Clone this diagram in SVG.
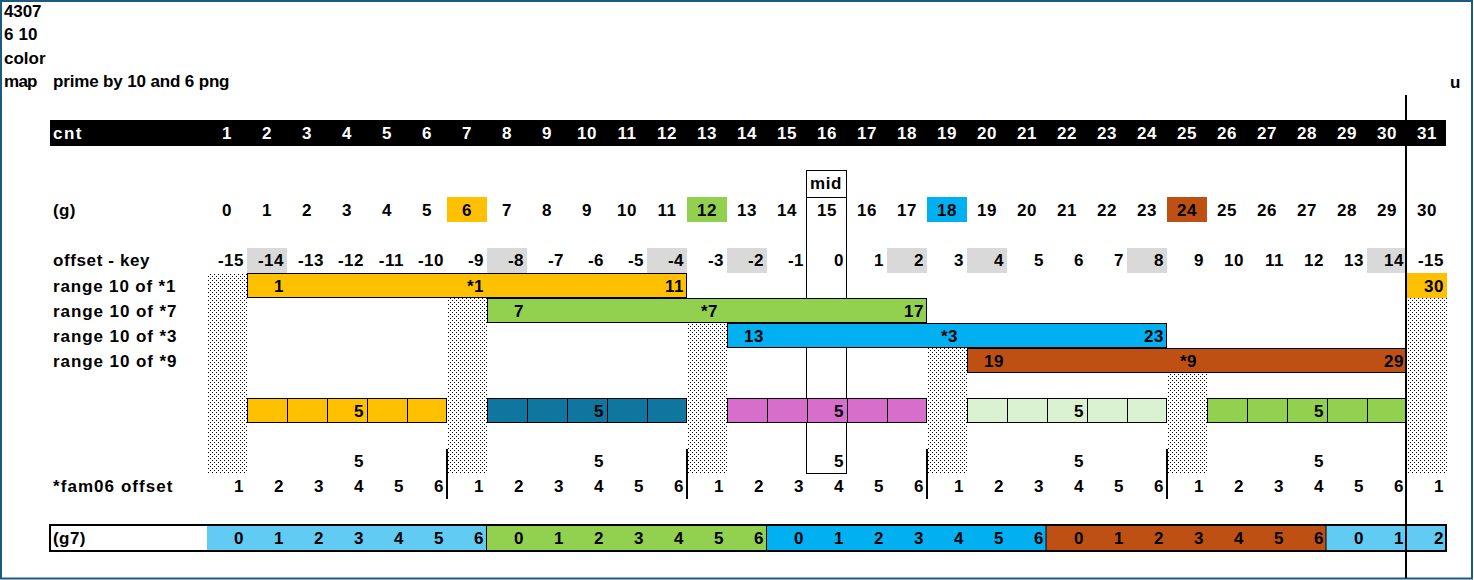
<svg xmlns="http://www.w3.org/2000/svg" width="1474" height="580" viewBox="0 0 1474 580">
<style>
text{font-family:"Liberation Sans",Arial,sans-serif;font-weight:bold;font-size:17px;fill:#000;letter-spacing:0.5px}
.m{text-anchor:middle}
.e{text-anchor:end}
.w{fill:#fff}
.bar{stroke:#000;stroke-width:1}
.cell{stroke:#000;stroke-width:1}
.sep{stroke:#000;stroke-width:2}
</style>
<defs>
<pattern id="dots" width="4" height="4" patternUnits="userSpaceOnUse">
<rect width="4" height="4" fill="#fff"/>
<rect x="0" y="0" width="1" height="1" fill="#000"/>
<rect x="2" y="2" width="1" height="1" fill="#000"/>
</pattern>
</defs>
<rect x="0" y="0" width="1474" height="580" fill="#fff"/>
<rect x="1" y="1" width="1471" height="577.5" fill="none" stroke="#1D5B7E" stroke-width="2"/>

<g id="title">
<text x="4" y="17" textLength="38" lengthAdjust="spacing">4307</text>
<text x="4" y="40" textLength="34" lengthAdjust="spacing">6 10</text>
<text x="4" y="64" textLength="42" lengthAdjust="spacing">color</text>
<text x="4" y="87" textLength="34" lengthAdjust="spacing">map</text>
<text x="53" y="87" textLength="177" lengthAdjust="spacing">prime by 10 and 6 png</text>
<text x="1450" y="88">u</text>
</g>

<g id="cnt-row">
<rect x="50" y="120" width="1396" height="26" fill="#000"/>
<text class="w" x="53" y="139" textLength="29" lengthAdjust="spacing">cnt</text>
<text class="w m" x="227" y="139">1</text><text class="w m" x="267" y="139">2</text><text class="w m" x="307" y="139">3</text><text class="w m" x="347" y="139">4</text><text class="w m" x="387" y="139">5</text><text class="w m" x="427" y="139">6</text><text class="w m" x="467" y="139">7</text><text class="w m" x="507" y="139">8</text><text class="w m" x="547" y="139">9</text><text class="w m" x="587" y="139">10</text><text class="w m" x="627" y="139">11</text><text class="w m" x="667" y="139">12</text><text class="w m" x="707" y="139">13</text><text class="w m" x="747" y="139">14</text><text class="w m" x="787" y="139">15</text><text class="w m" x="827" y="139">16</text><text class="w m" x="867" y="139">17</text><text class="w m" x="907" y="139">18</text><text class="w m" x="947" y="139">19</text><text class="w m" x="987" y="139">20</text><text class="w m" x="1027" y="139">21</text><text class="w m" x="1067" y="139">22</text><text class="w m" x="1107" y="139">23</text><text class="w m" x="1147" y="139">24</text><text class="w m" x="1187" y="139">25</text><text class="w m" x="1227" y="139">26</text><text class="w m" x="1267" y="139">27</text><text class="w m" x="1307" y="139">28</text><text class="w m" x="1347" y="139">29</text><text class="w m" x="1387" y="139">30</text><text class="w m" x="1427" y="139">31</text>
</g>

<g id="mid-box">
<rect x="806.5" y="170.5" width="40" height="303" fill="none" stroke="#000" stroke-width="1"/>
<line x1="806.5" y1="197.5" x2="846.5" y2="197.5" stroke="#000" stroke-width="1"/>
<text x="810" y="189" textLength="32" lengthAdjust="spacing">mid</text>
</g>

<g id="g-row">
<rect x="447" y="197" width="40" height="25" fill="#FFC000"/>
<rect x="687" y="197" width="40" height="25" fill="#92D050"/>
<rect x="927" y="197" width="40" height="25" fill="#00B0F0"/>
<rect x="1167" y="197" width="40" height="25" fill="#BF5014"/>
<text x="53" y="216" textLength="23" lengthAdjust="spacing">(g)</text>
<text class="m" x="227" y="216">0</text><text class="m" x="267" y="216">1</text><text class="m" x="307" y="216">2</text><text class="m" x="347" y="216">3</text><text class="m" x="387" y="216">4</text><text class="m" x="427" y="216">5</text><text class="m" x="467" y="216">6</text><text class="m" x="507" y="216">7</text><text class="m" x="547" y="216">8</text><text class="m" x="587" y="216">9</text><text class="m" x="627" y="216">10</text><text class="m" x="667" y="216">11</text><text class="m" x="707" y="216">12</text><text class="m" x="747" y="216">13</text><text class="m" x="787" y="216">14</text><text class="m" x="827" y="216">15</text><text class="m" x="867" y="216">16</text><text class="m" x="907" y="216">17</text><text class="m" x="947" y="216">18</text><text class="m" x="987" y="216">19</text><text class="m" x="1027" y="216">20</text><text class="m" x="1067" y="216">21</text><text class="m" x="1107" y="216">22</text><text class="m" x="1147" y="216">23</text><text class="m" x="1187" y="216">24</text><text class="m" x="1227" y="216">25</text><text class="m" x="1267" y="216">26</text><text class="m" x="1307" y="216">27</text><text class="m" x="1347" y="216">28</text><text class="m" x="1387" y="216">29</text><text class="m" x="1427" y="216">30</text>
</g>

<g id="offset-key">
<g fill="#D9D9D9">
<rect x="247" y="248" width="40" height="25"/>
<rect x="487" y="248" width="40" height="25"/>
<rect x="647" y="248" width="40" height="25"/>
<rect x="727" y="248" width="40" height="25"/>
<rect x="887" y="248" width="40" height="25"/>
<rect x="967" y="248" width="40" height="25"/>
<rect x="1127" y="248" width="40" height="25"/>
<rect x="1367" y="248" width="40" height="25"/>
</g>
<text x="53" y="266" textLength="97" lengthAdjust="spacing">offset - key</text>
<text class="e" x="244" y="266">-15</text><text class="e" x="284" y="266">-14</text><text class="e" x="324" y="266">-13</text><text class="e" x="364" y="266">-12</text><text class="e" x="404" y="266">-11</text><text class="e" x="444" y="266">-10</text><text class="e" x="484" y="266">-9</text><text class="e" x="524" y="266">-8</text><text class="e" x="564" y="266">-7</text><text class="e" x="604" y="266">-6</text><text class="e" x="644" y="266">-5</text><text class="e" x="684" y="266">-4</text><text class="e" x="724" y="266">-3</text><text class="e" x="764" y="266">-2</text><text class="e" x="804" y="266">-1</text><text class="e" x="844" y="266">0</text><text class="e" x="884" y="266">1</text><text class="e" x="924" y="266">2</text><text class="e" x="964" y="266">3</text><text class="e" x="1004" y="266">4</text><text class="e" x="1044" y="266">5</text><text class="e" x="1084" y="266">6</text><text class="e" x="1124" y="266">7</text><text class="e" x="1164" y="266">8</text><text class="e" x="1204" y="266">9</text><text class="e" x="1244" y="266">10</text><text class="e" x="1284" y="266">11</text><text class="e" x="1324" y="266">12</text><text class="e" x="1364" y="266">13</text><text class="e" x="1404" y="266">14</text><text class="e" x="1444" y="266">-15</text>
</g>

<g id="dotted">
<g fill="url(#dots)">
<rect x="207" y="273" width="40" height="200"/>
<rect x="447" y="298" width="40" height="175"/>
<rect x="687" y="323" width="40" height="150"/>
<rect x="927" y="348" width="40" height="125"/>
<rect x="1167" y="373" width="40" height="100"/>
<rect x="1407" y="298" width="40" height="175"/>
</g>
</g>

<g id="ranges">
<text x="53" y="292" textLength="123" lengthAdjust="spacing">range 10 of *1</text>
<text x="53" y="317" textLength="124" lengthAdjust="spacing">range 10 of *7</text>
<text x="53" y="342" textLength="124" lengthAdjust="spacing">range 10 of *3</text>
<text x="53" y="367" textLength="124" lengthAdjust="spacing">range 10 of *9</text>
<rect class="bar" x="247.5" y="273.5" width="439" height="24" fill="#FFC000"/>
<text class="e" x="284" y="292">1</text><text class="e" x="484" y="292">*1</text><text class="e" x="684" y="292">11</text>
<rect x="1407" y="273" width="40" height="25" fill="#FFC000"/>
<text class="e" x="1444" y="292">30</text>
<rect class="bar" x="487.5" y="298.5" width="439" height="24" fill="#92D050"/>
<text class="e" x="524" y="317">7</text><text class="e" x="718" y="317">*7</text><text class="e" x="924" y="317">17</text>
<rect class="bar" x="727.5" y="323.5" width="439" height="24" fill="#00B0F0"/>
<text class="e" x="764" y="342">13</text><text class="e" x="958" y="342">*3</text><text class="e" x="1164" y="342">23</text>
<rect class="bar" x="967.5" y="348.5" width="439" height="24" fill="#BF5014"/>
<text class="e" x="1004" y="367">19</text><text class="e" x="1197" y="367">*9</text><text class="e" x="1404" y="367">29</text>
</g>

<g id="five-cells">
<g class="cell" fill="#FFC000">
<rect x="247.5" y="398.5" width="40" height="24"/><rect x="287.5" y="398.5" width="40" height="24"/><rect x="327.5" y="398.5" width="40" height="24"/><rect x="367.5" y="398.5" width="40" height="24"/><rect x="407.5" y="398.5" width="39" height="24"/>
</g>
<g class="cell" fill="#0F76A0">
<rect x="487.5" y="398.5" width="40" height="24"/><rect x="527.5" y="398.5" width="40" height="24"/><rect x="567.5" y="398.5" width="40" height="24"/><rect x="607.5" y="398.5" width="40" height="24"/><rect x="647.5" y="398.5" width="39" height="24"/>
</g>
<g class="cell" fill="#D86ECC">
<rect x="727.5" y="398.5" width="40" height="24"/><rect x="767.5" y="398.5" width="40" height="24"/><rect x="807.5" y="398.5" width="40" height="24"/><rect x="847.5" y="398.5" width="40" height="24"/><rect x="887.5" y="398.5" width="39" height="24"/>
</g>
<g class="cell" fill="#DAF2D0">
<rect x="967.5" y="398.5" width="40" height="24"/><rect x="1007.5" y="398.5" width="40" height="24"/><rect x="1047.5" y="398.5" width="40" height="24"/><rect x="1087.5" y="398.5" width="40" height="24"/><rect x="1127.5" y="398.5" width="39" height="24"/>
</g>
<g class="cell" fill="#92D050">
<rect x="1207.5" y="398.5" width="40" height="24"/><rect x="1247.5" y="398.5" width="40" height="24"/><rect x="1287.5" y="398.5" width="40" height="24"/><rect x="1327.5" y="398.5" width="40" height="24"/><rect x="1367.5" y="398.5" width="39" height="24"/>
</g>
<text class="e" x="364" y="417">5</text><text class="e" x="604" y="417">5</text><text class="e" x="844" y="417">5</text><text class="e" x="1084" y="417">5</text><text class="e" x="1324" y="417">5</text>
<text class="e" x="364" y="467">5</text><text class="e" x="604" y="467">5</text><text class="e" x="844" y="467">5</text><text class="e" x="1084" y="467">5</text><text class="e" x="1324" y="467">5</text>
</g>

<g id="fam06">
<text x="53" y="492" textLength="120" lengthAdjust="spacing">*fam06 offset</text>
<text class="e" x="244" y="492">1</text><text class="e" x="284" y="492">2</text><text class="e" x="324" y="492">3</text><text class="e" x="364" y="492">4</text><text class="e" x="404" y="492">5</text><text class="e" x="444" y="492">6</text><text class="e" x="484" y="492">1</text><text class="e" x="524" y="492">2</text><text class="e" x="564" y="492">3</text><text class="e" x="604" y="492">4</text><text class="e" x="644" y="492">5</text><text class="e" x="684" y="492">6</text><text class="e" x="724" y="492">1</text><text class="e" x="764" y="492">2</text><text class="e" x="804" y="492">3</text><text class="e" x="844" y="492">4</text><text class="e" x="884" y="492">5</text><text class="e" x="924" y="492">6</text><text class="e" x="964" y="492">1</text><text class="e" x="1004" y="492">2</text><text class="e" x="1044" y="492">3</text><text class="e" x="1084" y="492">4</text><text class="e" x="1124" y="492">5</text><text class="e" x="1164" y="492">6</text><text class="e" x="1204" y="492">1</text><text class="e" x="1244" y="492">2</text><text class="e" x="1284" y="492">3</text><text class="e" x="1324" y="492">4</text><text class="e" x="1364" y="492">5</text><text class="e" x="1404" y="492">6</text><text class="e" x="1444" y="492">1</text>
<line class="sep" x1="447" y1="449" x2="447" y2="499"/>
<line class="sep" x1="687" y1="449" x2="687" y2="499"/>
<line class="sep" x1="927" y1="449" x2="927" y2="499"/>
<line class="sep" x1="1167" y1="449" x2="1167" y2="499"/>
</g>

<g id="g7-row">
<rect x="50" y="525" width="1396" height="26" fill="#fff"/>
<rect x="207" y="525" width="280" height="26" fill="#61CBF3"/>
<rect x="487" y="525" width="280" height="26" fill="#92D050"/>
<rect x="767" y="525" width="279" height="26" fill="#00B0F0"/>
<rect x="1046" y="525" width="280" height="26" fill="#BF5014"/>
<rect x="1326" y="525" width="120" height="26" fill="#61CBF3"/>
<g stroke="#000" stroke-width="1">
<line x1="486.5" y1="525" x2="486.5" y2="551"/>
<line x1="766.5" y1="525" x2="766.5" y2="551"/>
<line x1="1046" y1="525" x2="1046" y2="551"/>
<line x1="1326" y1="525" x2="1326" y2="551"/>
</g>
<rect x="50" y="525" width="1396" height="26" fill="none" stroke="#000" stroke-width="2"/>
<text x="53" y="544" textLength="33" lengthAdjust="spacing">(g7)</text>
<text class="e" x="244" y="544">0</text><text class="e" x="284" y="544">1</text><text class="e" x="324" y="544">2</text><text class="e" x="364" y="544">3</text><text class="e" x="404" y="544">4</text><text class="e" x="444" y="544">5</text><text class="e" x="484" y="544">6</text><text class="e" x="524" y="544">0</text><text class="e" x="564" y="544">1</text><text class="e" x="604" y="544">2</text><text class="e" x="644" y="544">3</text><text class="e" x="684" y="544">4</text><text class="e" x="724" y="544">5</text><text class="e" x="764" y="544">6</text><text class="e" x="804" y="544">0</text><text class="e" x="844" y="544">1</text><text class="e" x="884" y="544">2</text><text class="e" x="924" y="544">3</text><text class="e" x="964" y="544">4</text><text class="e" x="1004" y="544">5</text><text class="e" x="1044" y="544">6</text><text class="e" x="1084" y="544">0</text><text class="e" x="1124" y="544">1</text><text class="e" x="1164" y="544">2</text><text class="e" x="1204" y="544">3</text><text class="e" x="1244" y="544">4</text><text class="e" x="1284" y="544">5</text><text class="e" x="1324" y="544">6</text><text class="e" x="1364" y="544">0</text><text class="e" x="1404" y="544">1</text><text class="e" x="1444" y="544">2</text>
</g>

<g id="u-line">
<line x1="1406" y1="95" x2="1406" y2="578" stroke="#000" stroke-width="2"/>
</g>
</svg>
